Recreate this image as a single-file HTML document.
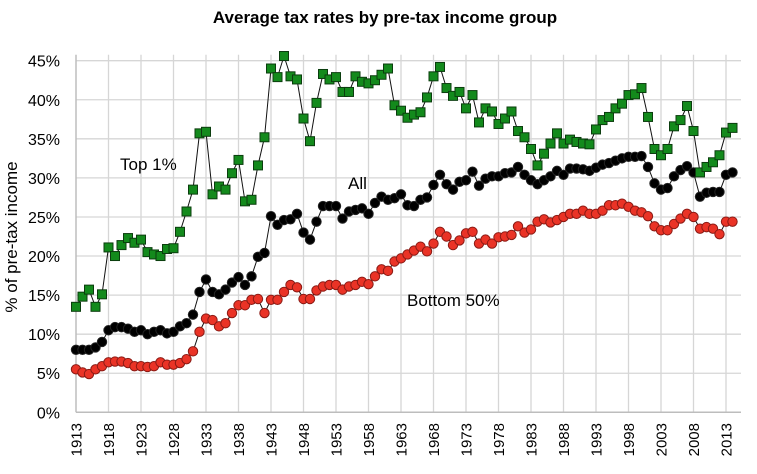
<!DOCTYPE html>
<html><head><meta charset="utf-8"><style>
html,body{margin:0;padding:0;background:#fff;}
svg{display:block;font-family:"Liberation Sans",Arial,sans-serif;}
</style></head><body>
<svg id="chart" width="757" height="474" viewBox="0 0 757 474" xmlns="http://www.w3.org/2000/svg">
<text x="385" y="23" text-anchor="middle" font-size="17" font-weight="bold">Average tax rates by pre-tax income group</text>
<text transform="translate(17,237) rotate(-90)" text-anchor="middle" font-size="17">% of pre-tax income</text>
<g id="grid"></g>
<g id="axes"></g>
<g id="series"></g>
<text x="120" y="170" font-size="17">Top 1%</text>
<text x="348" y="189" font-size="17">All</text>
<text x="407" y="306" font-size="17">Bottom 50%</text>
</svg>
<script>
const startYear = 1913;
const yTicks = [0,5,10,15,20,25,30,35,40,45];
const xTickYears = [1913,1918,1923,1928,1933,1938,1943,1948,1953,1958,1963,1968,1973,1978,1983,1988,1993,1998,2003,2008,2013];
const top1 = [13.5,14.8,15.7,13.5,15.1,21.1,20.0,21.4,22.3,21.7,22.1,20.5,20.2,20.0,20.9,21.0,23.1,25.7,28.5,35.7,35.9,27.9,28.9,28.5,30.6,32.3,27.0,27.2,31.6,35.2,44.0,42.9,45.6,43.0,42.6,37.6,34.7,39.6,43.3,42.6,42.9,41.0,41.0,43.0,42.3,42.1,42.5,43.2,44.0,39.3,38.6,37.7,38.1,38.4,40.3,43.0,44.2,41.5,40.5,41.0,38.9,40.6,37.1,38.9,38.5,36.9,37.6,38.5,36.0,35.2,33.7,31.6,33.1,34.4,35.7,34.4,34.9,34.6,34.4,34.3,36.2,37.4,37.8,38.9,39.5,40.6,40.7,41.5,37.8,33.7,32.9,33.7,36.6,37.4,39.2,36.0,30.7,31.4,32.0,32.9,35.8,36.4];
const allIncome = [8.0,8.0,8.0,8.3,9.0,10.5,10.9,10.9,10.7,10.3,10.5,10.0,10.3,10.5,10.1,10.3,11.0,11.4,12.5,15.4,17.0,15.4,15.1,15.7,16.6,17.3,16.3,17.4,19.9,20.4,25.1,24.0,24.6,24.7,25.4,23.0,22.1,24.4,26.4,26.4,26.4,24.8,25.7,25.9,26.1,25.4,26.8,27.6,27.2,27.4,27.9,26.5,26.4,27.2,27.5,29.1,30.4,29.2,28.5,29.5,29.7,30.8,29.0,29.9,30.2,30.2,30.6,30.7,31.4,30.4,29.7,29.2,29.7,30.2,30.9,30.4,31.2,31.2,31.1,30.9,31.3,31.7,31.9,32.2,32.5,32.7,32.7,32.8,31.4,29.3,28.5,28.7,30.2,31.0,31.5,30.7,27.6,28.1,28.2,28.2,30.4,30.7];
const bottom50 = [5.5,5.1,4.9,5.5,5.9,6.4,6.5,6.5,6.3,5.9,5.9,5.8,5.9,6.4,6.1,6.1,6.3,6.8,7.8,10.3,12.0,11.8,11.0,11.4,12.7,13.7,13.7,14.4,14.5,12.7,14.4,14.4,15.4,16.3,16.0,14.5,14.5,15.6,16.1,16.3,16.3,15.7,16.1,16.3,16.7,16.4,17.4,18.3,18.1,19.3,19.7,20.2,20.7,21.2,20.6,21.6,23.1,22.5,21.4,22.0,22.9,23.1,21.6,22.1,21.6,22.4,22.5,22.7,23.8,23.0,23.4,24.4,24.7,24.3,24.6,25.0,25.4,25.4,25.8,25.4,25.4,25.8,26.5,26.5,26.7,26.3,25.8,25.6,25.1,23.8,23.3,23.3,24.1,24.8,25.4,25.0,23.5,23.7,23.5,22.8,24.4,24.4];

const NS = "http://www.w3.org/2000/svg";
const L = 76, R = 741, T = 60.7, B = 412.3;
function xScale(year){ return L + (year - 1913) * 6.5; }
function yScale(v){ return B - (v / 45) * (B - T); }
function mk(tag, attrs, parent){ const e = document.createElementNS(NS, tag); for (const k in attrs) e.setAttribute(k, attrs[k]); parent.appendChild(e); return e; }

const grid = document.getElementById('grid');
const axes = document.getElementById('axes');
const series = document.getElementById('series');

yTicks.forEach(v => {
  const y = yScale(v);
  if (v > 0) {
    const g = mk('line', {x1: L, x2: R, y1: y, y2: y, stroke: '#d6d6d6', 'stroke-width': 1.3}, grid);
    
    
  }
  const t = mk('text', {x: 60, y: y + 6, 'text-anchor': 'end', 'font-size': 16}, axes);
  t.textContent = v + '%';
  
  
});
xTickYears.forEach(yr => {
  const x = xScale(yr);
  if (yr > 1913) {
    const g = mk('line', {x1: x, x2: x, y1: T - 6, y2: B, stroke: '#d6d6d6', 'stroke-width': 1.3}, grid);
    
    
  }
  const t = mk('text', {transform: 'translate(' + (x + 5.5) + ',423) rotate(-90)', 'text-anchor': 'end', 'font-size': 15}, axes);
  t.textContent = yr;
  
  
});
const ax1 = mk('line', {x1: L, x2: R, y1: B, y2: B, stroke: '#bdbdbd', 'stroke-width': 1.5}, axes);


const ax2 = mk('line', {x1: L, x2: L, y1: T - 6, y2: B, stroke: '#bdbdbd', 'stroke-width': 1.5}, axes);



function drawSeries(values, name, kind, fill, strokeC){
  const g = mk('g', {}, series);
  
  
  const pts = values.map((v, i) => xScale(startYear + i).toFixed(1) + ',' + yScale(v).toFixed(1)).join(' ');
  const pl = mk('polyline', {points: pts, fill: 'none', stroke: '#111', 'stroke-width': 1}, g);
  
  
  values.forEach((v, i) => {
    const x = xScale(startYear + i), y = yScale(v);
    let m;
    if (kind === 'square') m = mk('rect', {x: x - 4.5, y: y - 4.5, width: 9, height: 9, fill: fill, stroke: strokeC, 'stroke-width': 1}, g);
    else m = mk('circle', {cx: x, cy: y, r: 4.7, fill: fill, stroke: strokeC, 'stroke-width': 1}, g);
    
    
  });
}
drawSeries(bottom50, 'bottom50', 'circle', '#ea3326', '#8a1a14');
drawSeries(allIncome, 'all', 'circle', '#000', '#222');
drawSeries(top1, 'top1', 'square', '#138a1c', '#0b3d0e');
</script>
</body></html>
